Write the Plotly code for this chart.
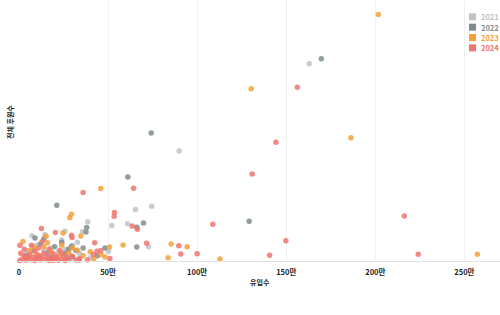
import plotly.graph_objects as go

# 유입수 (in 만 units) and 전체 후원수 per year
x2021 = [162.9, 89.9, 74.5, 65.4, 38.6, 60.9, 52.1, 35.6, 25.8, 7.3, 14.6, 72.7, 32.8, 50.2,
         10, 18, 4, 12, 22, 28, 16, 30, 24, 6, 20, 34, 40, 14, 26]
y2021 = [756, 421, 210, 197, 150, 143, 136, 113, 114, 97, 102, 55, 72, 36,
         60, 50, 30, 20, 35, 20, 8, 60, 80, 15, 25, 30, 12, 40, 45]

x2022 = [169.7, 74.2, 61.1, 129.2, 21.2, 69.9, 66.1, 38.0, 37.6, 9.0, 24.0, 66.1, 48.3, 33.7, 27.9, 29.4,
         12, 16, 20, 8, 26, 30, 18, 36, 44, 14, 4, 32, 10]
y2022 = [775, 490, 322, 152, 214, 146, 129, 128, 111, 88, 72, 54, 50, 4, 45, 56,
         65, 30, 55, 40, 30, 15, 12, 50, 20, 85, 20, 40, 12]

x2023 = [201.7, 130.3, 186.3, 45.9, 29.4, 28.5, 24.7, 34.7, 15.2, 2.2, 58.4, 85.4, 94.4, 83.7, 112.8, 257.3,
         50.8, 48.3, 46.1, 32.8,
         6, 10, 14, 18, 20, 24, 22, 28, 12, 4, 16, 30, 36, 40, 8, 26, 42]
y2023 = [944, 660, 472, 278, 179, 166, 107, 96, 95, 75, 61, 65, 55, 12, 8, 26,
         54, 15, 25, 41,
         40, 25, 55, 35, 10, 60, 20, 30, 8, 10, 70, 50, 20, 35, 55, 5, 10]

x2024 = [156.2, 144.2, 130.9, 64.3, 36.0, 53.6, 53.4, 216.3, 149.8, 140.7, 224.1, 108.8, 63.5, 66.5,
         12.6, 20.4, 29.4, 29.8, 42.5, 71.7, 90.8, 89.7, 100.0, 51.0, 38.4, 43.8, 45.9, 41.8,
         0.5, 2, 3, 4, 5, 6, 7, 8, 9, 10, 11, 12, 13, 14, 15, 16, 17, 18, 19, 20, 21, 22, 23, 24,
         25, 26, 27, 28, 30, 32, 34, 1, 3, 7, 9, 13, 11, 17, 0.5, 19, 24]
y2024 = [666, 455, 333, 279, 262, 186, 171, 172, 78, 22, 26, 141, 134, 122,
         125, 109, 99, 90, 70, 68, 27, 58, 28, 10, 4, 37, 40, 25,
         2, 8, 18, 3, 12, 25, 5, 15, 2, 10, 22, 4, 14, 30, 6, 18, 2, 10, 28, 5, 15, 3, 40, 8,
         20, 2, 12, 6, 18, 4, 10, 30, 45, 60, 38, 75, 50, 45, 60, 3, 30]

years = ["2021", "2022", "2023", "2024"]
colors = ["#bdc3c7", "#7f8c8d", "#f5a03c", "#f07470"]
tick_vals_man = [0, 50, 100, 150, 200, 250]
tick_text = ["0", "50만", "100만", "150만", "200만", "250만"]

series = [(x2021, y2021), (x2022, y2022), (x2023, y2023), (x2024, y2024)]

FONT = "Noto Sans CJK KR"
W, H = 500, 315
ML, MR, MT, MB = 19, 0, 0, 54
PW, PH = W - ML - MR, H - MT - MB

def px_x(p):
    return (p - ML) / PW

def px_y(p):
    return (H - MB - p) / PH

fig = go.Figure()
for (xs, ys), yr, c in zip(series, years, colors):
    fig.add_trace(go.Scatter(
        x=[v * 10000 for v in xs], y=ys, mode="markers", showlegend=False,
        marker=dict(size=5.5, color=c, opacity=0.85, line=dict(width=0)),
        cliponaxis=False, name=yr))

shapes = []
annotations = [
    dict(text="<b>전체 후원수</b>", x=px_x(10.5), y=px_y(122.5), xref="paper", yref="paper",
         textangle=-90, showarrow=False, font=dict(size=7, family=FONT, color="#222"),
         xanchor="center", yanchor="middle"),
    dict(text="<b>유입수</b>", x=0.5, y=px_y(281.7), xref="paper", yref="paper",
         showarrow=False, font=dict(size=7, family=FONT, color="#222"),
         xanchor="center", yanchor="middle"),
]
# legend (square swatches + coloured labels)
for i, (yr, c) in enumerate(zip(years, colors)):
    cy = 16.8 + i * 10.35
    shapes.append(dict(type="rect", xref="paper", yref="paper",
                       x0=px_x(469), x1=px_x(476), y0=px_y(cy + 3.5), y1=px_y(cy - 3.5),
                       fillcolor=c, line=dict(width=0)))
    annotations.append(dict(text=f"<b>{yr}</b>", x=px_x(479), y=px_y(cy), xref="paper", yref="paper",
                            showarrow=False, xanchor="left", yanchor="middle",
                            font=dict(size=7.5, family=FONT, color=c)))

fig.update_layout(
    width=W, height=H,
    margin=dict(l=ML, r=MR, t=MT, b=MB),
    plot_bgcolor="white", paper_bgcolor="white",
    font=dict(family=FONT, size=7, color="#222"),
    showlegend=False,
    xaxis=dict(range=[0, 2700000], tickvals=[v * 10000 for v in tick_vals_man], ticktext=tick_text,
               showgrid=True, gridcolor="#f0f0f0", zeroline=False,
               showline=True, linecolor="#e2e2e2", linewidth=1, ticks="",
               tickfont=dict(size=7.5, family=FONT, color="#222", weight="bold"), ticklabelstandoff=4),
    yaxis=dict(range=[0, 1000], showticklabels=False, showgrid=False, zeroline=False,
               showline=False, ticks=""),
    shapes=shapes,
    annotations=annotations,
)
fig.write_html("out.html")
